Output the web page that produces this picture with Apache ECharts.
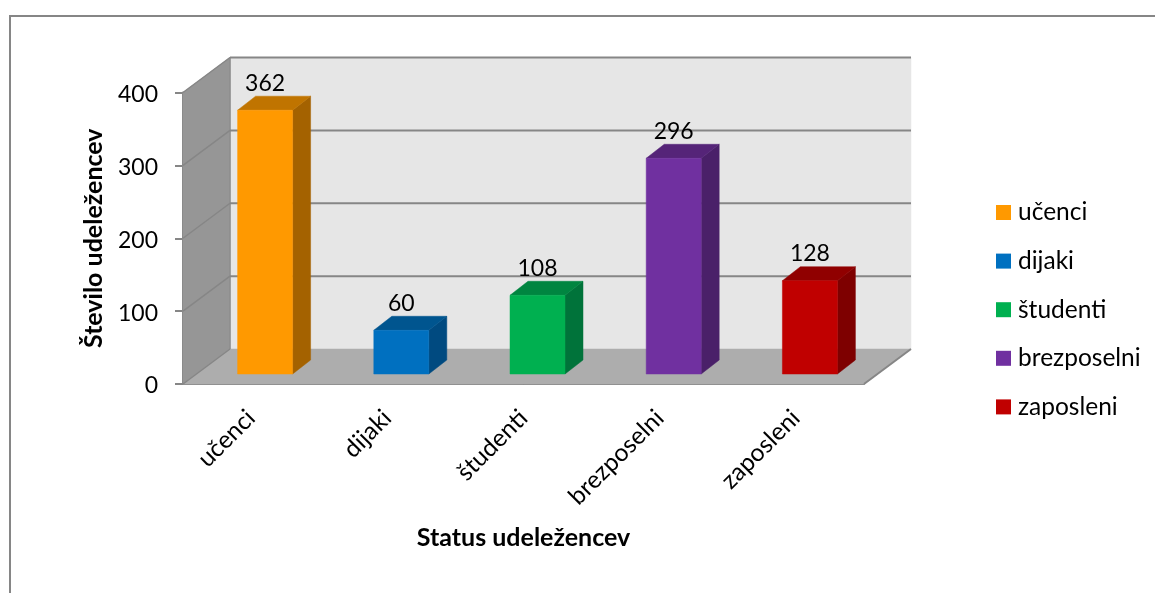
<!DOCTYPE html>
<html><head><meta charset="utf-8">
<style>html,body{margin:0;padding:0;background:#fff}#c{width:1155px;height:593px}</style>
<script src="https://cdn.jsdelivr.net/npm/echarts@6/dist/echarts.min.js"></script>
</head><body><div id="c"></div>
<script>
const categories = ['učenci','dijaki','študenti','brezposelni','zaposleni'];
const values = [362,60,108,296,128];
const frontColors = ['#ff9900','#0070c0','#00b050','#7030a0','#c00000'];
const topColors = ['#c07400','#00558f','#008540','#552478','#900000'];
const sideColors = ['#a46200','#004a80','#00733a','#4a2069','#7e0000'];
const yTicks = [0,100,200,300,400];
const FONT = 'Lato';
// oblique projection offsets, in pixels
const WALL_DX = 47, WALL_DY = -35, BAR_SHIFT_X = 14, BAR_SHIFT_Y = -10, BAR_DX = 18, BAR_DY = -14, BAR_W = 55;
const GRID = '#868686';

function poly(points, fill, stroke, lw){
  return {type:'polygon',shape:{points},style:{fill,stroke:stroke||fill,lineWidth:lw==null?0.5:lw}};
}
function line(a,b,lw){
  return {type:'line',shape:{x1:a[0],y1:a[1],x2:b[0],y2:b[1]},style:{stroke:GRID,lineWidth:lw,fill:null}};
}
function renderWalls(params, api){
  const cs = params.coordSys;
  const L = cs.x, R = cs.x+cs.width;
  const y0 = api.coord([0,0])[1], yMax = api.coord([0,400])[1];
  const kids = [
    poly([[L,y0],[L,yMax],[L+WALL_DX,yMax+WALL_DY],[L+WALL_DX,y0+WALL_DY]],'#969696'),
    poly([[L+WALL_DX,yMax+WALL_DY],[R+WALL_DX,yMax+WALL_DY],[R+WALL_DX,y0+WALL_DY],[L+WALL_DX,y0+WALL_DY]],'#e6e6e6'),
    poly([[L,y0],[L+WALL_DX,y0+WALL_DY],[R+WALL_DX,y0+WALL_DY],[R,y0]],'#adadad')
  ];
  yTicks.forEach(t=>{
    const y = api.coord([0,t])[1];
    if(t>0 ) kids.push(line([L+WALL_DX,y+WALL_DY],[R+WALL_DX,y+WALL_DY],2));
    kids.push(line([L,y],[L+WALL_DX,y+WALL_DY],1.5));
  });
  kids.push(line([L+WALL_DX,yMax+WALL_DY],[L+WALL_DX,y0+WALL_DY],1.5));
  kids.push(line([R+WALL_DX,y0+WALL_DY],[R,y0],2));
  return {type:'group',children:kids};
}
function makeBar(i){
  return function(params, api){
    const top = api.coord([api.value(0),api.value(1)]);
    const base = api.coord([api.value(0),0]);
    const xl = top[0]-BAR_W/2+BAR_SHIFT_X, xr = xl+BAR_W;
    const yt = top[1]+BAR_SHIFT_Y, yb = base[1]+BAR_SHIFT_Y;
    return {type:'group',children:[
      poly([[xr,yt],[xr+BAR_DX,yt+BAR_DY],[xr+BAR_DX,yb+BAR_DY],[xr,yb]],sideColors[i]),
      poly([[xl,yt],[xl+BAR_DX,yt+BAR_DY],[xr+BAR_DX,yt+BAR_DY],[xr,yt]],topColors[i]),
      poly([[xl,yt],[xr,yt],[xr,yb],[xl,yb]],frontColors[i]),
      {type:'text',style:{text:String(values[i]),x:(xl+xr)/2,y:yt-27,align:'center',verticalAlign:'middle',
        fill:'#000',font:'23px '+FONT}}
    ]};
  };
}
const chart = echarts.init(document.getElementById('c'),null,{renderer:'canvas'});
chart.setOption({
  animation:false,
  backgroundColor:'#fff',
  graphic:[{type:'polyline',silent:true,shape:{points:[[10,593],[10,16],[1155,16]]},style:{stroke:GRID,lineWidth:2,fill:null}}],
  grid:{left:183,top:92.5,width:681,height:291.5,containLabel:false},
  legend:{
    data:categories,orient:'vertical',left:991,top:195,itemWidth:15,itemHeight:15,itemGap:23.6,
    icon:'rect',textStyle:{fontFamily:FONT,fontSize:24.5,color:'#000',padding:[0,0,0,2]},selectedMode:false
  },
  xAxis:{
    type:'category',data:categories,
    axisTick:{show:false},
    axisLine:{show:true,lineStyle:{color:GRID,width:2}},
    axisLabel:{rotate:45,interval:0,fontFamily:FONT,fontSize:24.5,color:'#000',margin:30},
    name:'Status udeležencev',nameLocation:'middle',nameGap:141,
    nameTextStyle:{fontFamily:FONT,fontSize:25,fontWeight:'bold',color:'#000'}
  },
  yAxis:{
    type:'value',min:0,max:400,interval:100,
    splitLine:{show:false},
    axisLine:{show:true,lineStyle:{color:GRID,width:2}},
    axisTick:{show:true,length:8,lineStyle:{color:GRID,width:2}},
    axisLabel:{fontFamily:FONT,fontSize:23,color:'#000',margin:25,verticalAlign:'bottom',lineHeight:20,padding:[0,0,-12,0]},
    name:'Število udeležencev',nameLocation:'middle',nameGap:77,nameRotate:90,
    nameTextStyle:{fontFamily:FONT,fontSize:25,fontWeight:'bold',color:'#000'}
  },
  series:[
    {type:'custom',name:'walls',silent:true,z:1,data:[[0,0]],encode:{x:0,y:1},renderItem:renderWalls},
    ...categories.map((c,i)=>({
      type:'custom',name:c,z:2,itemStyle:{color:frontColors[i]},
      data:[[i,values[i]]],encode:{x:0,y:1},renderItem:makeBar(i)
    }))
  ]
});
</script></body></html>
